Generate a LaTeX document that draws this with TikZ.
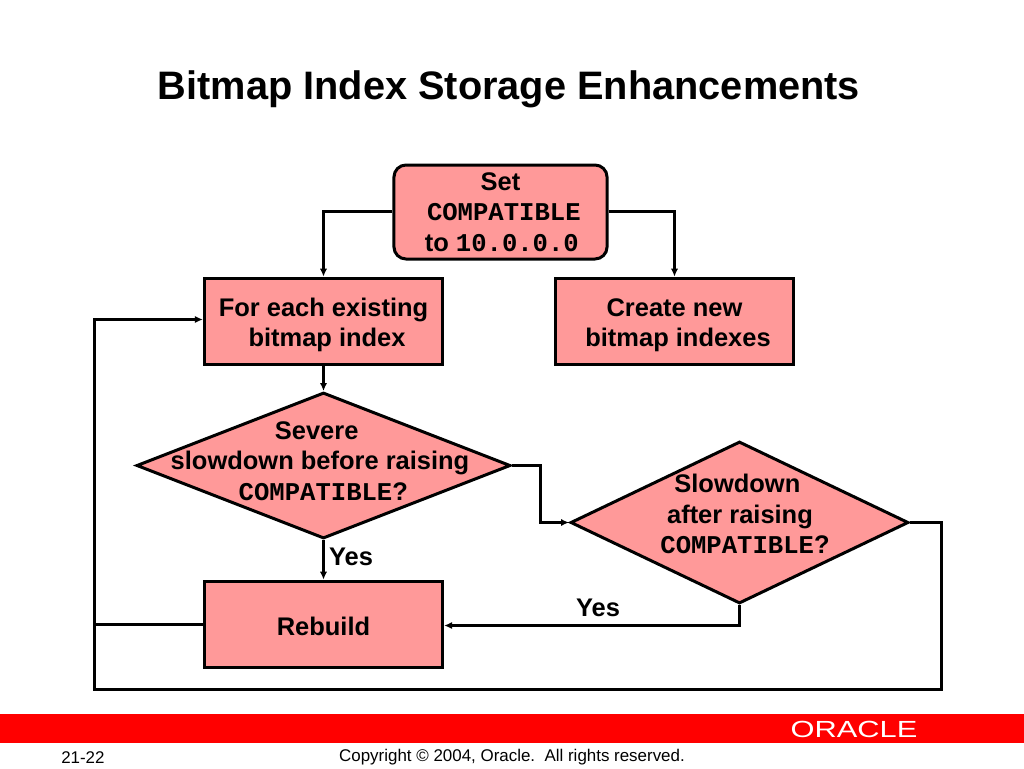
\documentclass[tikz,border=0pt]{standalone}
\usepackage{fontspec}
\setmainfont{Liberation Sans}
\setmonofont{Liberation Mono}
\usetikzlibrary{shapes.geometric,arrows.meta,calc}
\definecolor{boxpink}{HTML}{FF9999}
\newcommand{\cw}{{\fontsize{19.2pt}{22.8pt}\selectfont\texttt{\bfseries COMPATIBLE}}}
\newcommand{\lift}[1]{\rule{0pt}{#1pt}}
\tikzset{
  x=0.75pt,y=-0.75pt,
  boxed/.style={draw=black,fill=boxpink,line width=2.25pt,rectangle,inner sep=0pt,align=center,font=\fontsize{19.1pt}{23pt}\selectfont\bfseries,text=black},
  roundedbox/.style={boxed,rounded corners=9pt},
  dia/.style={draw=black,fill=boxpink,line width=2.25pt,diamond,inner sep=0pt,aspect=2.3},
  lbl/.style={align=center,inner sep=0pt,font=\fontsize{19.1pt}{23pt}\selectfont\bfseries,text=black},
  link/.style={draw=black,line width=2.25pt,line join=miter},
  arrowlink/.style={link,-{Latex[length=6pt,width=5.5pt]}},
  foot/.style={inner sep=0pt,font=\fontsize{12.7pt}{15pt}\selectfont,text=black},
}
\begin{document}
\begin{tikzpicture}
\useasboundingbox (0,0) rectangle (1024,768);
\fill[white] (0,0) rectangle (1024,768);
\node[inner sep=0pt,font=\fontsize{29.8pt}{35pt}\selectfont\bfseries] (title) at (509,89) {Bitmap Index Storage Enhancements};

\node[roundedbox,minimum width=159.8pt,minimum height=70.5pt] (setc) at (500.5,212) {Set\\\hspace*{5pt}\cw\\\hspace*{2pt}to {\fontsize{19.2pt}{22.8pt}\selectfont\texttt{\bfseries 10.0.0.0}}};
\node[boxed,minimum width=178.7pt,minimum height=65pt] (each) at (323.5,321.5) {\lift{19}For each existing\\\phantom{i}bitmap index};
\node[boxed,minimum width=178.7pt,minimum height=65pt] (create) at (674.5,321.5) {\lift{19}Create new\\\phantom{i}bitmap indexes};
\node[boxed,minimum width=178.7pt,minimum height=65pt] (rebuild) at (323.5,624.5) {\lift{17}Rebuild};

\node[dia,minimum width=280.5pt,minimum height=109.5pt] (d1) at (323.5,465.5) {};
\node[dia,minimum width=253.5pt,minimum height=121.5pt] (d2) at (739.5,522.5) {};
\node[lbl] (t1) at (320,461) {Severe\hspace*{5pt}\\slowdown before raising\\\hspace*{5pt}\cw?};
\node[lbl] (t2) at (740,514) {Slowdown\hspace*{4pt}\\after raising\\\hspace*{7.5pt}\cw?};

\node[lbl] (y1) at (351,557) {Yes};
\node[lbl] (y2) at (598,608) {Yes};

\coordinate (loopA) at (941.5,522.5);
\coordinate (loopB) at (941.5,689.5);
\coordinate (loopC) at (94.5,689.5);
\coordinate (loopD) at (94.5,319.5);
\coordinate (entry) at (each.west |- loopD);
\coordinate (bendR) at (540.5,465.5);
\coordinate (yesB) at (739.5,625.5);
\coordinate (topline) at (0,211.5);
\coordinate (backline) at (0,624.5);

\draw[arrowlink] (setc.west |- topline) -| (each.north);
\draw[arrowlink] (setc.east |- topline) -| (create.north);
\draw[arrowlink] (each.south) -- (d1.north);
\draw[arrowlink] (d1.south) -- (rebuild.north);
\draw[arrowlink] (d1.east) -- (bendR) |- (d2.west);
\draw[arrowlink] (d2.south) -- (yesB) -- (rebuild.east |- yesB);
\draw[link] (rebuild.west |- backline) -- (loopD |- backline);
\draw[arrowlink] (d2.east) -- (loopA) -- (loopB) -- (loopC) -- (loopD) -- (entry);

\fill[red] (0,714) rectangle (1024,743);
\node[inner sep=0pt,text=white,font=\fontsize{17.5pt}{21pt}\selectfont,xscale=1.32] (logo) at (854,729) {ORACLE};
\node[foot,anchor=west] (page) at (61,757.5) {21-22};
\node[foot] (copy) at (512,757.5) {Copyright © 2004, Oracle.\ \ All rights reserved.};
\end{tikzpicture}
\end{document}
